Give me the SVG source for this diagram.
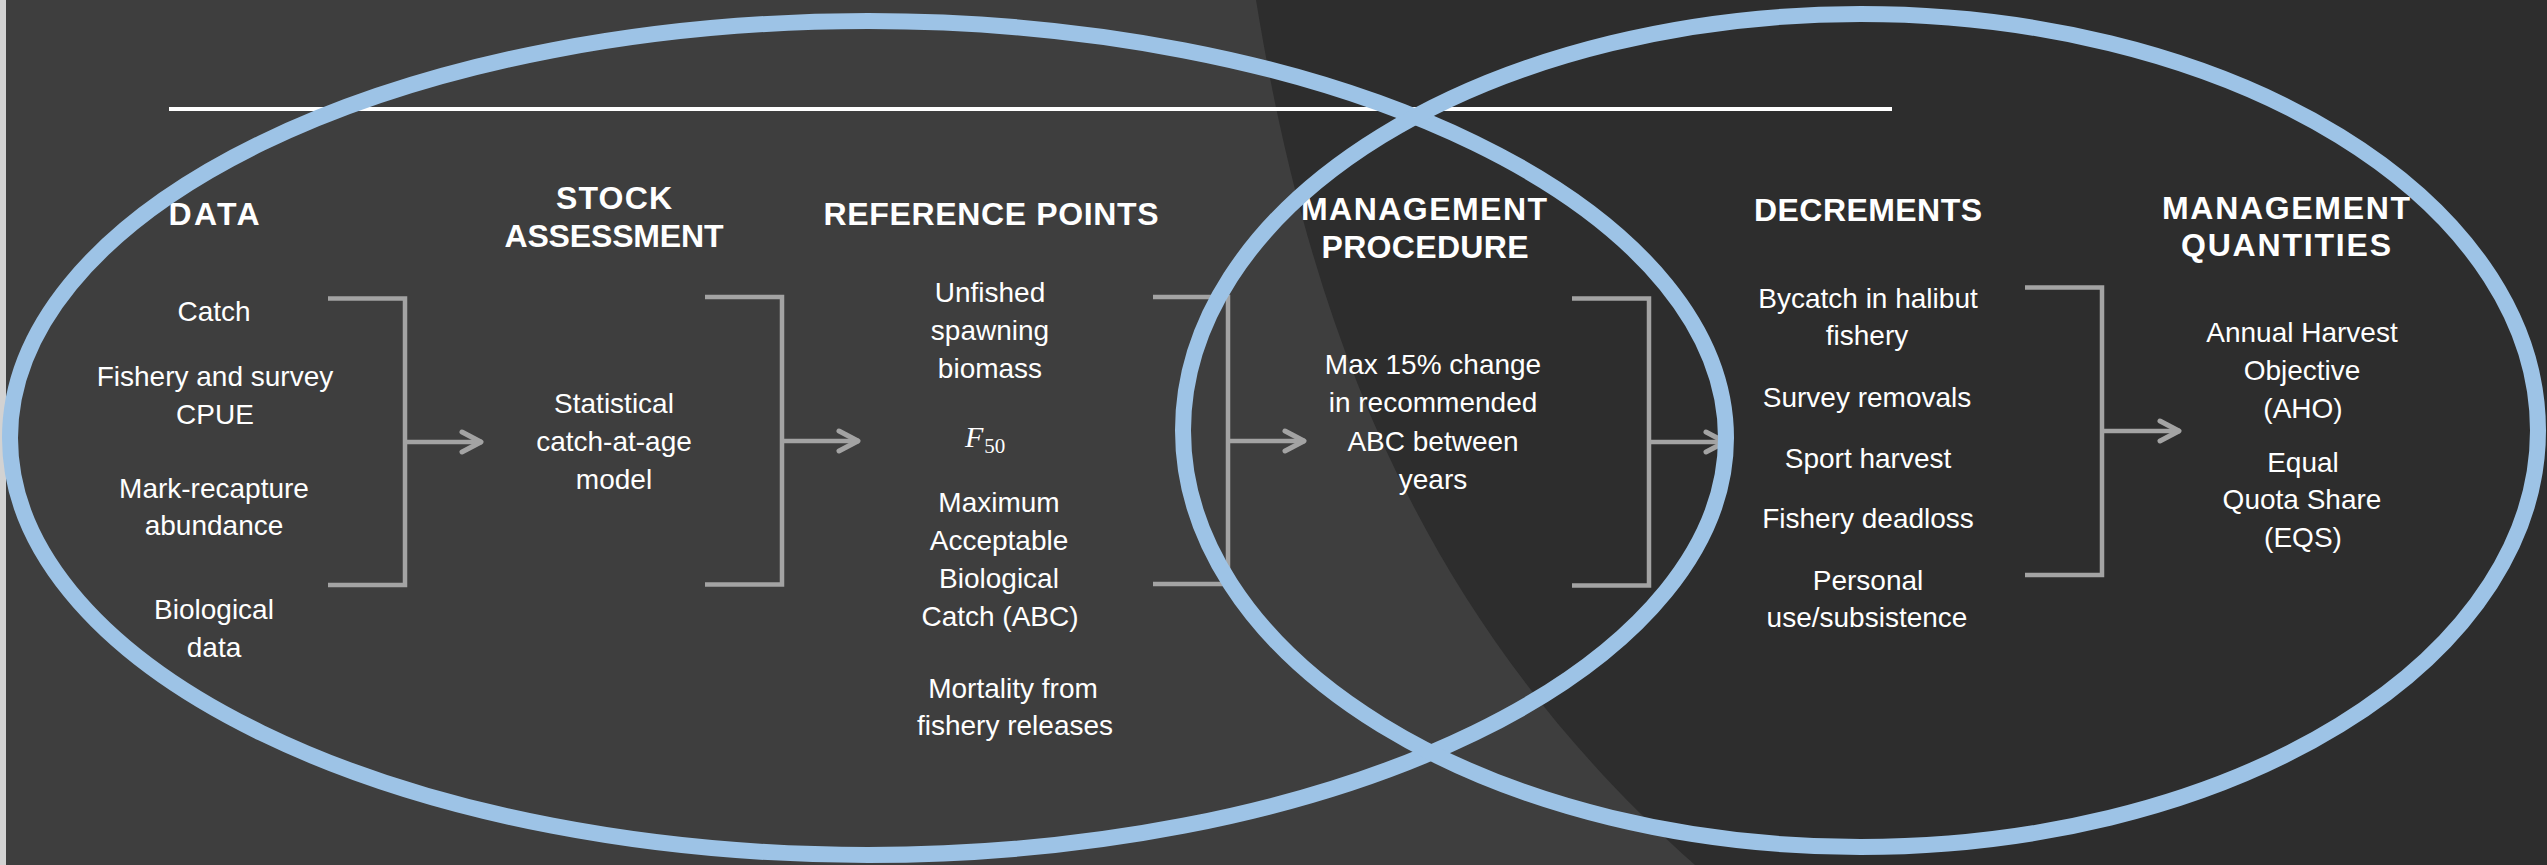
<svg xmlns="http://www.w3.org/2000/svg" width="2547" height="865" viewBox="0 0 2547 865">
  <defs>
    <style>
      .hdr { font-family: "Liberation Sans", Arial, sans-serif; font-weight: bold; font-size: 32px; fill: #ffffff; text-anchor: middle; }
      .txt { font-family: "Liberation Sans", Arial, sans-serif; font-size: 28px; fill: #ffffff; text-anchor: middle; }
      .brk { fill: none; stroke: #a3a3a3; stroke-width: 4.5; }
      .arw { fill: none; stroke: #a3a3a3; stroke-width: 4.5; marker-end: url(#chev); }
      .ring { fill: none; stroke: #9dc3e6; stroke-width: 16; }
    </style>
    <marker id="chev" markerUnits="userSpaceOnUse" markerWidth="30" markerHeight="30" viewBox="0 0 30 30" refX="24" refY="15" orient="auto">
      <path d="M4,5 L23,15 L4,25" fill="none" stroke="#a3a3a3" stroke-width="5" stroke-linecap="round" stroke-linejoin="round"/>
    </marker>
  </defs>

  <g id="background">
    <rect x="0" y="0" width="2547" height="865" fill="#2d2d2d"/>
    <path d="M0,0 H1256 C1310,330 1420,620 1695,865 H0 Z" fill="#3e3e3e"/>
    <rect x="0" y="0" width="6" height="865" fill="#d2d2d2"/>
  </g>

  <line id="title-rule" x1="169" y1="109" x2="1892" y2="109" stroke="#ffffff" stroke-width="4"/>

  <g id="connectors">
    <path class="brk" d="M328,298.5 H405 V585 H328"/>
    <path class="arw" d="M405,442 H482"/>
    <path class="brk" d="M705,297 H782 V584.5 H705"/>
    <path class="arw" d="M782,441 H859"/>
    <path class="brk" d="M1153,297 H1228 V584 H1153"/>
    <path class="arw" d="M1228,441 H1305"/>
    <path class="brk" d="M1572,298.5 H1649 V585.5 H1572"/>
    <path class="arw" d="M1649,442 H1726"/>
    <path class="brk" d="M2025,287.5 H2102 V575 H2025"/>
    <path class="arw" d="M2102,431 H2180"/>
  </g>

  <g id="node-data">
    <text class="hdr" x="214" y="225" textLength="91">DATA</text>
    <text class="txt" x="214" y="321">Catch</text>
    <text class="txt" x="215" y="386">Fishery and survey</text>
    <text class="txt" x="215" y="424">CPUE</text>
    <text class="txt" x="214" y="498">Mark-recapture</text>
    <text class="txt" x="214" y="535">abundance</text>
    <text class="txt" x="214" y="619">Biological</text>
    <text class="txt" x="214" y="657">data</text>
  </g>

  <g id="node-stock-assessment">
    <text class="hdr" x="614" y="209" textLength="116">STOCK</text>
    <text class="hdr" x="614" y="247" textLength="219">ASSESSMENT</text>
    <text class="txt" x="614" y="413">Statistical</text>
    <text class="txt" x="614" y="451">catch-at-age</text>
    <text class="txt" x="614" y="489">model</text>
  </g>

  <g id="node-reference-points">
    <text class="hdr" x="991" y="225" textLength="335">REFERENCE POINTS</text>
    <text class="txt" x="990" y="302">Unfished</text>
    <text class="txt" x="990" y="340">spawning</text>
    <text class="txt" x="990" y="378">biomass</text>
    <text x="965" y="447" font-family="'Liberation Serif', 'Times New Roman', serif" font-size="30" fill="#ffffff"><tspan font-style="italic">F</tspan><tspan font-size="21" dx="1" dy="6">50</tspan></text>
    <text class="txt" x="999" y="512">Maximum</text>
    <text class="txt" x="999" y="550">Acceptable</text>
    <text class="txt" x="999" y="588">Biological</text>
    <text class="txt" x="1000" y="626">Catch (ABC)</text>
    <text class="txt" x="1013" y="698">Mortality from</text>
    <text class="txt" x="1015" y="735">fishery releases</text>
  </g>

  <g id="node-management-procedure">
    <text class="hdr" x="1424" y="220" textLength="246">MANAGEMENT</text>
    <text class="hdr" x="1425" y="258" textLength="207">PROCEDURE</text>
    <text class="txt" x="1433" y="374">Max 15% change</text>
    <text class="txt" x="1433" y="412">in recommended</text>
    <text class="txt" x="1433" y="451">ABC between</text>
    <text class="txt" x="1433" y="489">years</text>
  </g>

  <g id="node-decrements">
    <text class="hdr" x="1868" y="221" textLength="228">DECREMENTS</text>
    <text class="txt" x="1868" y="308">Bycatch in halibut</text>
    <text class="txt" x="1867" y="345">fishery</text>
    <text class="txt" x="1867" y="407">Survey removals</text>
    <text class="txt" x="1868" y="468">Sport harvest</text>
    <text class="txt" x="1868" y="528">Fishery deadloss</text>
    <text class="txt" x="1868" y="590">Personal</text>
    <text class="txt" x="1867" y="627">use/subsistence</text>
  </g>

  <g id="node-management-quantities">
    <text class="hdr" x="2286" y="219" textLength="248">MANAGEMENT</text>
    <text class="hdr" x="2286" y="256" textLength="210">QUANTITIES</text>
    <text class="txt" x="2302" y="342">Annual Harvest</text>
    <text class="txt" x="2302" y="380">Objective</text>
    <text class="txt" x="2303" y="418">(AHO)</text>
    <text class="txt" x="2303" y="472">Equal</text>
    <text class="txt" x="2302" y="509">Quota Share</text>
    <text class="txt" x="2303" y="547">(EQS)</text>
  </g>

  <g id="overlap-rings">
    <ellipse class="ring" cx="868" cy="438" rx="858" ry="417"/>
    <ellipse class="ring" cx="1860.5" cy="430.5" rx="677.5" ry="416.5"/>
  </g>
</svg>
